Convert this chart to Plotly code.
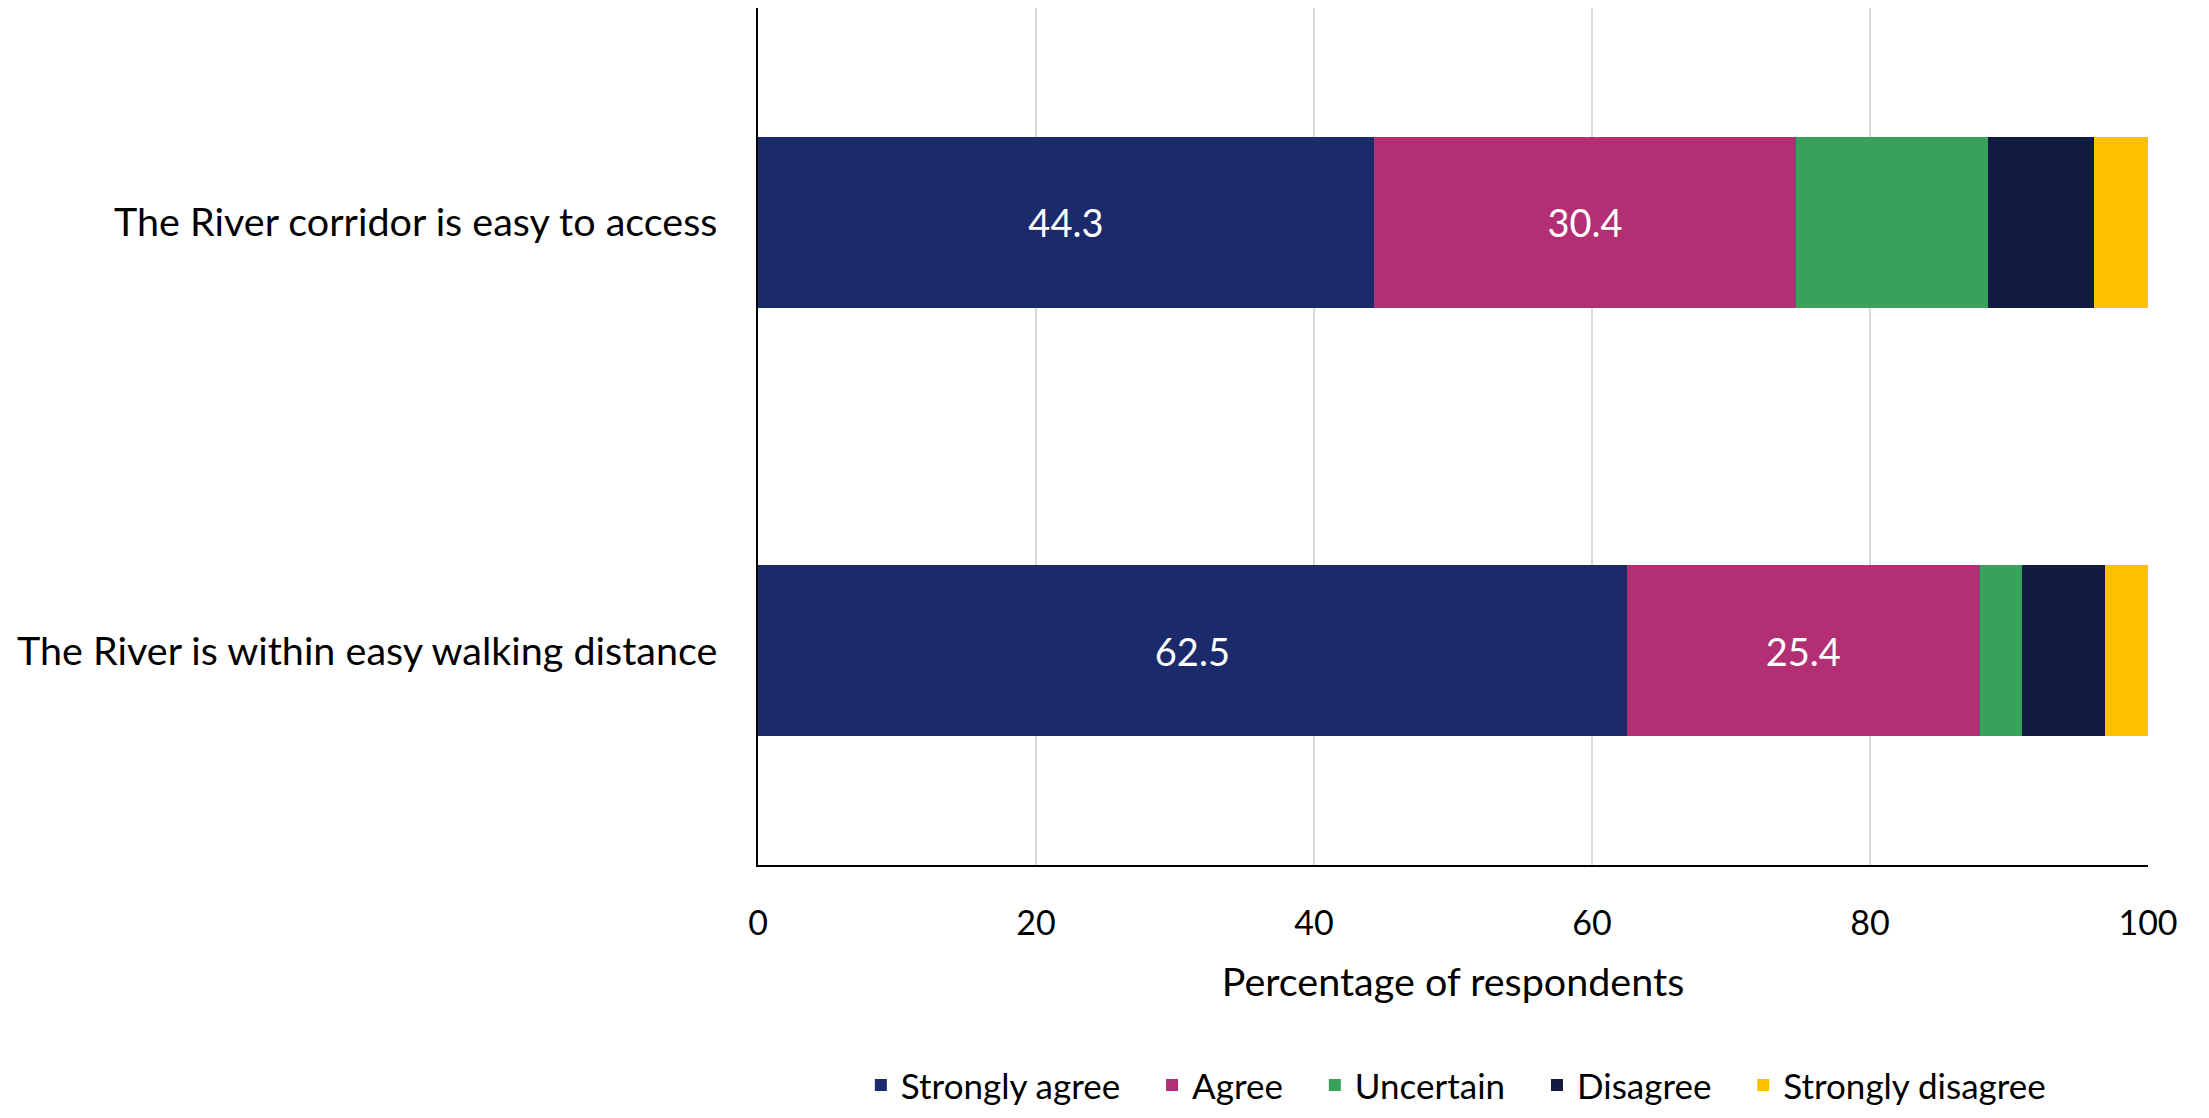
import plotly.graph_objects as go

categories = ["The River corridor is easy to access", "The River is within easy walking distance"]
series_names = ["Strongly agree", "Agree", "Uncertain", "Disagree", "Strongly disagree"]
strongly_agree = [44.3, 62.5]
agree = [30.4, 25.4]
uncertain = [13.8, 3.0]
disagree = [7.6, 6.0]
strongly_disagree = [3.9, 3.1]
colors = ["#1B2A6B", "#B22F74", "#38A15A", "#111A40", "#FFC000"]
show_labels = [True, True, False, False, False]
x_ticks = [0, 20, 40, 60, 80, 100]

FONT = "Lato"
values = [strongly_agree, agree, uncertain, disagree, strongly_disagree]
GAP = "&nbsp;" * 3

fig = go.Figure()
for i, (name, vals, col, lab) in enumerate(zip(series_names, values, colors, show_labels)):
    fig.add_trace(go.Bar(
        y=categories, x=vals, name=name + (GAP if i < len(series_names) - 1 else ""),
        orientation="h",
        marker=dict(color=col, line=dict(width=0)),
        text=[f"{v:.1f}" for v in vals] if lab else None,
        textposition="inside" if lab else "none",
        insidetextanchor="middle",
        textfont=dict(color="white", size=38, family=FONT),
        constraintext="none",
    ))

fig.update_layout(
    barmode="stack",
    bargap=0.6,
    width=2193, height=1102,
    paper_bgcolor="white", plot_bgcolor="white",
    margin=dict(l=750, r=53, t=0, b=245, autoexpand=False),
    font=dict(family=FONT, size=38, color="black"),
    legend=dict(orientation="h", x=0.074, xanchor="left", y=-0.257, yanchor="middle",
                font=dict(size=35, family=FONT), itemwidth=30, traceorder="normal"),
    showlegend=True,
)
fig.update_xaxes(
    range=[0, 100], tickvals=x_ticks, showgrid=True, gridcolor="#D9D9D9", gridwidth=1.5,
    showline=True, linecolor="black", linewidth=1.5, zeroline=False,
    ticks="", tickfont=dict(size=34, family=FONT), ticklabelstandoff=27,
    title=dict(text="Percentage of respondents", font=dict(size=39.5, family=FONT), standoff=28),
)
fig.update_yaxes(
    categoryorder="array", categoryarray=categories, autorange="reversed",
    showline=True, linecolor="black", linewidth=1.5, showgrid=False,
    ticks="", tickfont=dict(size=39.5, family=FONT), ticklabelstandoff=31,
)

fig.write_html("out.html")
